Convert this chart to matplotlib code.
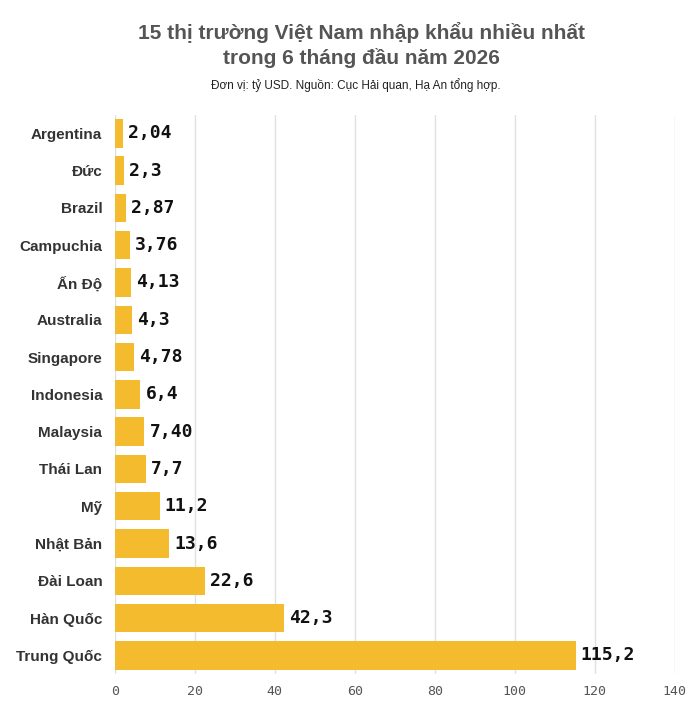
import matplotlib.pyplot as plt

countries = ["Argentina", "Đức", "Brazil", "Campuchia", "Ấn Độ", "Australia",
             "Singapore", "Indonesia", "Malaysia", "Thái Lan", "Mỹ", "Nhật Bản",
             "Đài Loan", "Hàn Quốc", "Trung Quốc"]
values = [2.04, 2.3, 2.87, 3.76, 4.13, 4.3, 4.78, 6.4, 7.40, 7.7, 11.2, 13.6,
          22.6, 42.3, 115.2]
value_labels = ["2,04", "2,3", "2,87", "3,76", "4,13", "4,3", "4,78", "6,4",
                "7,40", "7,7", "11,2", "13,6", "22,6", "42,3", "115,2"]
xticks = [0, 20, 40, 60, 80, 100, 120, 140]

fig = plt.figure(figsize=(7, 7.08), dpi=100)
ax = fig.add_axes([0.164, 0.048, 0.80, 0.79])

pos = list(range(len(countries)))
ax.barh(pos, values, height=0.76, color="#F4BB2E", zorder=2)
for p, v, lab in zip(pos, values, value_labels):
    ax.text(v + 1.3, p, lab, va="center", ha="left", fontsize=13,
            fontweight="bold", family="DejaVu Sans Mono", color="#111111")

ax.set_ylim(len(countries) - 0.5, -0.5)
ax.set_xlim(0, 140)
ax.set_yticks(pos)
ax.set_yticklabels(countries, fontsize=11, fontweight="bold", color="#333333",
                   family="Liberation Sans")
ax.set_xticks(xticks)
ax.set_xticklabels([str(t) for t in xticks], family="DejaVu Sans Mono",
                   fontsize=9.5, color="#555555")
ax.tick_params(axis="both", length=0)
ax.tick_params(axis="y", pad=9)
ax.tick_params(axis="x", pad=8)
ax.grid(axis="x", color="#e0e0e0", linewidth=1, zorder=0)
for s in ax.spines.values():
    s.set_visible(False)

fig.text(0.516, 0.936, "15 thị trường Việt Nam nhập khẩu nhiều nhất\ntrong 6 tháng đầu năm 2026",
         ha="center", va="center", fontsize=15, fontweight="bold",
         color="#555555", linespacing=1.3, family="Liberation Sans")
fig.text(0.508, 0.88, "Đơn vị: tỷ USD. Nguồn: Cục Hải quan, Hạ An tổng hợp.",
         ha="center", va="center", fontsize=8.5, color="#222222",
         family="Liberation Sans")

fig.savefig("out.png", dpi=100)
